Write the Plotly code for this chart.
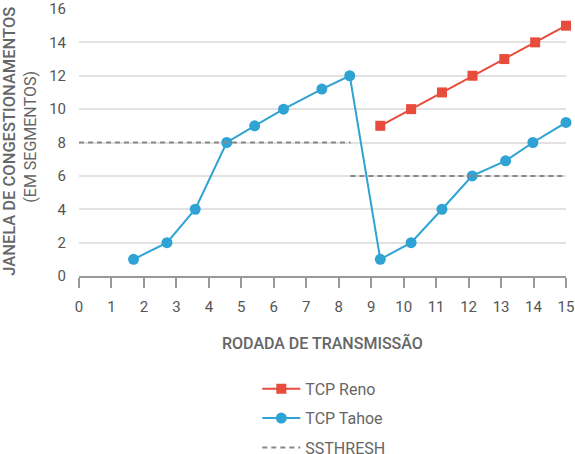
import plotly.graph_objects as go

# Data
tahoe_x = [1.68, 2.71, 3.58, 4.55, 5.41, 6.30, 7.48, 8.34, 9.28, 10.23, 11.18, 12.11, 13.14, 13.98, 15.0]
tahoe_y = [1, 2, 4, 8, 9, 10, 11.2, 12, 1, 2, 4, 6, 6.9, 8, 9.2]
reno_x = [9.28, 10.23, 11.18, 12.12, 13.1, 14.05, 15.0]
reno_y = [9, 10, 11, 12, 13, 14, 15]
ssthresh_x = [0, 8.36, None, 8.36, 15]
ssthresh_y = [8, 8, None, 6, 6]
x_ticks = list(range(0, 16))
y_ticks = list(range(0, 17, 2))

BLUE = "#2fa3d3"
RED = "#e74c3c"
GRAY_TXT = "#666666"
TICK_TXT = "#555555"

fig = go.Figure()
fig.add_trace(go.Scatter(x=reno_x, y=reno_y, name="TCP Reno", mode="lines+markers",
                         line=dict(color=RED, width=2),
                         marker=dict(symbol="square", size=10, color=RED),
                         legendgroup="a", cliponaxis=False))
fig.add_trace(go.Scatter(x=tahoe_x, y=tahoe_y, name="TCP Tahoe", mode="lines+markers",
                         line=dict(color=BLUE, width=2),
                         marker=dict(symbol="circle", size=11, color=BLUE),
                         legendgroup="b", cliponaxis=False))
fig.add_trace(go.Scatter(x=ssthresh_x, y=ssthresh_y, name="SSTHRESH", mode="lines",
                         line=dict(color="#888888", width=2, dash="5px,4px"),
                         legendgroup="c", connectgaps=False, cliponaxis=False))

L, R, T, B = 78.5, 9, 9, 178.3
W, H = 575, 454
pw = W - L - R
ph = H - T - B

def px_x(p):
    return (p - L) / pw

def px_y(p):
    return (H - B - p) / ph

fig.update_layout(
    width=W, height=H,
    margin=dict(l=L, r=R, t=T, b=B, pad=0, autoexpand=False),
    paper_bgcolor="white", plot_bgcolor="white",
    font=dict(family="Roboto", size=15, color=TICK_TXT),
    showlegend=True,
    legend=dict(x=px_x(257), y=px_y(371.5), xanchor="left", yanchor="top",
                font=dict(size=16, color=GRAY_TXT), tracegroupgap=5.5, itemwidth=38,
                bgcolor="rgba(0,0,0,0)"),
    xaxis=dict(range=[0, 15], tickvals=x_ticks, showgrid=False, zeroline=False,
               showline=True, linecolor="#999999", linewidth=2,
               ticks="outside", ticklen=10, tickwidth=1.5, tickcolor="#999999",
               tickfont=dict(size=15, color=TICK_TXT), ticklabelstandoff=6),
    yaxis=dict(range=[0, 16], tickvals=y_ticks, showgrid=True, gridcolor="#e2e2e2",
               gridwidth=2, zeroline=False, showline=False, ticks="",
               tickfont=dict(size=15, color=TICK_TXT), ticklabelstandoff=12),
    annotations=[
        dict(text="RODADA DE TRANSMISSÃO", xref="paper", yref="paper",
             x=0.5, y=px_y(343), xanchor="center", yanchor="middle", showarrow=False,
             font=dict(size=16, color=GRAY_TXT, weight=500)),
        dict(text="JANELA DE CONGESTIONAMENTOS", xref="paper", yref="paper",
             x=px_x(9), y=px_y(141), xanchor="center", yanchor="middle", showarrow=False,
             textangle=-90, font=dict(size=16.5, color=GRAY_TXT, weight=500)),
        dict(text="(EM SEGMENTOS)", xref="paper", yref="paper",
             x=px_x(30), y=px_y(137), xanchor="center", yanchor="middle", showarrow=False,
             textangle=-90, font=dict(size=16, color=GRAY_TXT)),
    ],
)

fig.write_html("out.html")
